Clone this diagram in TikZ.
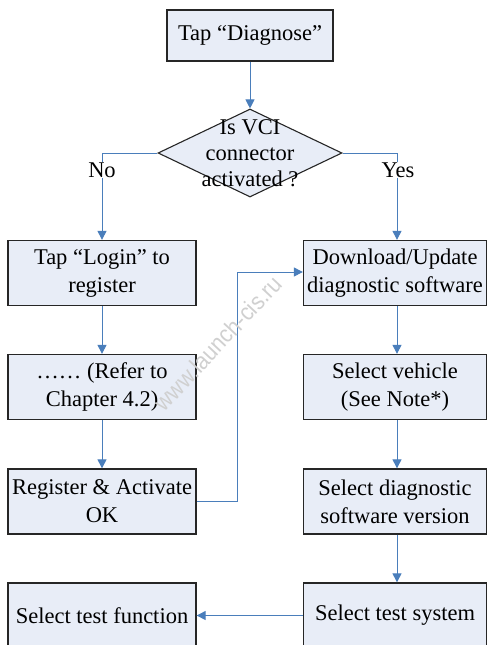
\documentclass[tikz,border=0pt]{standalone}
\usepackage{fontspec}
\setmainfont{Liberation Serif}
\newfontfamily\wmfont{Liberation Sans}
\usetikzlibrary{shapes.geometric,arrows.meta}
\definecolor{boxfill}{HTML}{E8EDF7}
\definecolor{linkblue}{HTML}{4A7EBB}
\definecolor{wmgray}{HTML}{D0D0D0}
\begin{document}
\begin{tikzpicture}[x=1pt,y=-1pt,
  flowbox/.style={draw=black!85,line width=1.3pt,fill=boxfill,minimum width=188pt,minimum height=65pt,
    inner sep=0pt,align=center,font=\fontsize{22.5}{28}\selectfont},
  rbox/.style={flowbox,minimum width=183pt},
  link/.style={draw=linkblue,line width=1pt,-{Triangle[width=9pt,length=9pt]}},
  plainlink/.style={draw=linkblue,line width=1pt},
  lbl/.style={font=\fontsize{22.5}{28}\selectfont,inner sep=0pt}]
\useasboundingbox (0,0) rectangle (488,645);
% nodes
\node[flowbox,minimum width=166pt,minimum height=51pt] (tap) at (250,35.5) {Tap “Diagnose”};
\node[draw=black!85,line width=1.1pt,fill=boxfill,diamond,minimum width=184pt,minimum height=88pt,inner sep=0pt] (dec) at (250,153) {};
\node[align=center,font=\fontsize{22.5}{26}\selectfont,inner sep=0pt] (dectext) at (250,153) {Is VCI\\connector\\activated ?};
\node[flowbox] (login) at (102,273) {Tap “Login” to\\register};
\node[flowbox] (refer) at (102,387) {…… (Refer to\\Chapter 4.2)};
\node[flowbox] (reg) at (102,501.5) {Register \& Activate\\OK};
\node[flowbox] (func) at (102,615.5) {Select test function};
\node[rbox] (dl) at (395,273) {Download/Update\\diagnostic software};
\node[rbox] (veh) at (395,387) {Select vehicle\\(See Note*)};
\node[rbox] (ver) at (395,501.5) {Select diagnostic\\software version};
\node[rbox] (sys) at (395,615.5) {Select test system};
\node[lbl] (no) at (102,170) {No};
\node[lbl] (yes) at (398,170) {Yes};
\coordinate (nocorner) at (102,153);
\coordinate (yescorner) at (397,153);
\coordinate (regturn) at (237,501.5);
\coordinate (regup) at (237,272);
% connectors
\draw[link] (tap.south) -- (dec.north);
\draw[plainlink] (dec.west) -- (nocorner) -- (no.north);
\draw[link] (no.south) -- (login.north);
\draw[plainlink] (dec.east) -- (yescorner) -- (yes.north -| yescorner);
\draw[link] (yes.south -| yescorner) -- (dl.north -| yescorner);
\draw[link] (login.south) -- (refer.north);
\draw[link] (refer.south) -- (reg.north);
\draw[link] (dl.south -| yescorner) -- (veh.north -| yescorner);
\draw[link] (veh.south -| yescorner) -- (ver.north -| yescorner);
\draw[link] (ver.south -| yescorner) -- (sys.north -| yescorner);
\draw[link] (sys.west) -- (func.east);
\draw[link] (reg.east) -- (regturn) -- (regup) -- (dl.west |- regup);
% watermark
\node[text=wmgray,rotate=47,font=\wmfont\fontsize{24}{24}\selectfont,inner sep=0pt] (wm) at (218,343) {\scalebox{0.9}[1]{www.launch-cis.ru}};
\end{tikzpicture}
\end{document}
